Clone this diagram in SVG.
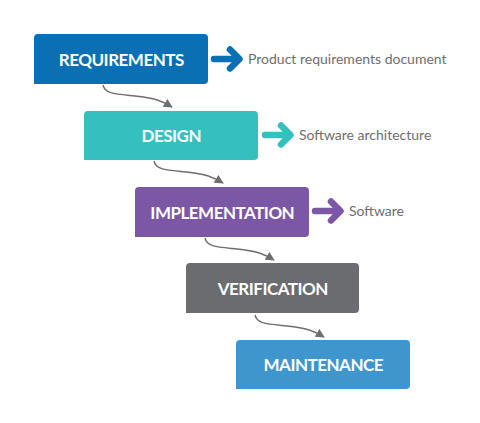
<svg xmlns="http://www.w3.org/2000/svg" width="480" height="423" viewBox="0 0 480 423">
<style>
.box-label{font-family:Lato,"Liberation Sans",sans-serif;font-weight:700;font-size:17px;letter-spacing:-0.5px;fill:#ffffff;text-anchor:middle}
.out-label{font-family:Lato,"Liberation Sans",sans-serif;font-size:14px;fill:#6d6e71}
.conn{fill:none;stroke:#6d6e71;stroke-width:1.4}
.fat{fill:none;stroke-width:6.5;stroke-linecap:round;stroke-linejoin:round}
</style>
<defs>
<marker id="ah" viewBox="0 0 10 10" refX="9" refY="5" markerWidth="9" markerHeight="9" markerUnits="userSpaceOnUse" orient="auto">
<path d="M0,0 L10,5 L0,10 Z" fill="#6d6e71"/>
</marker>
</defs>
<rect width="480" height="423" fill="#ffffff"/>
<g id="connectors">
<path class="conn" marker-end="url(#ah)" d="M103,85 C105,94 115,94 135,96 S162,101 172,107"/>
<path class="conn" marker-end="url(#ah)" d="M154,161 C156,170 166,170 186,172 S213,177 223,183"/>
<path class="conn" marker-end="url(#ah)" d="M205,238 C207,247 217,247 237,249 S264,254 274,260"/>
<path class="conn" marker-end="url(#ah)" d="M255,315 C257,324 267,324 287,326 S314,331 324,337"/>
</g>
<g id="requirements">
<path d="M38,34 H204 a4,4 0 0 1 4,4 V80 a4,4 0 0 1 -4,4 H34 V38 a4,4 0 0 1 4,-4 Z" fill="#0b6fb4"/>
<text class="box-label" x="121.3" y="65.5">REQUIREMENTS</text>
</g>
<g id="req-output">
<path class="fat" stroke="#0b6fb4" d="M214,59 H236 M230,49.5 L239.5,59 L230,68.5"/>
<text class="out-label" x="248" y="63.5">Product requirements document</text>
</g>
<g id="design">
<path d="M88,111 H254 a4,4 0 0 1 4,4 V156 a4,4 0 0 1 -4,4 H84 V115 a4,4 0 0 1 4,-4 Z" fill="#35c0bd"/>
<text class="box-label" x="171.3" y="141.5">DESIGN</text>
</g>
<g id="design-output">
<path class="fat" stroke="#35c0bd" d="M265,135 H287 M281,125.5 L290.5,135 L281,144.5"/>
<text class="out-label" x="299" y="139.5">Software architecture</text>
</g>
<g id="implementation">
<path d="M139,187 H305 a4,4 0 0 1 4,4 V233 a4,4 0 0 1 -4,4 H135 V191 a4,4 0 0 1 4,-4 Z" fill="#7b57a5"/>
<text class="box-label" x="222.3" y="218.5">IMPLEMENTATION</text>
</g>
<g id="impl-output">
<path class="fat" stroke="#7b57a5" d="M315,211 H337 M331,201.5 L340.5,211 L331,220.5"/>
<text class="out-label" x="349" y="216">Software</text>
</g>
<g id="verification">
<path d="M190,263 H355 a4,4 0 0 1 4,4 V309 a4,4 0 0 1 -4,4 H186 V267 a4,4 0 0 1 4,-4 Z" fill="#6b6c6f"/>
<text class="box-label" x="272.8" y="294.5">VERIFICATION</text>
</g>
<g id="maintenance">
<path d="M240,340 H406 a4,4 0 0 1 4,4 V385 a4,4 0 0 1 -4,4 H236 V344 a4,4 0 0 1 4,-4 Z" fill="#3f96cc"/>
<text class="box-label" x="323.3" y="371">MAINTENANCE</text>
</g>
</svg>
